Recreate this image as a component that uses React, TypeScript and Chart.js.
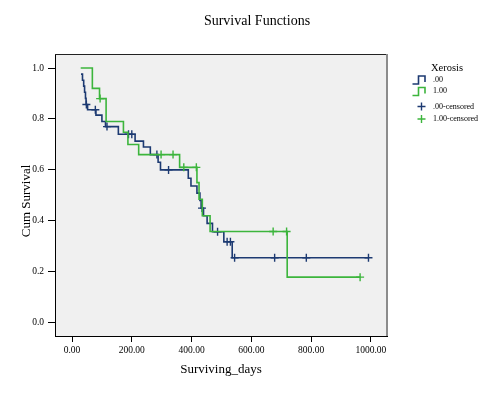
import React, { useEffect, useRef } from "react";
import { Chart, registerables } from "chart.js";

Chart.register(...registerables);

const TITLE = "Survival Functions";
const X_TITLE = "Surviving_days";
const Y_TITLE = "Cum Survival";
const LEGEND_TITLE = "Xerosis";
const GROUP_LABELS = [".00", "1.00"];
const CENSOR_LABELS = [".00-censored", "1.00-censored"];

const X_TICKS = [0, 200, 400, 600, 800, 1000];
const Y_TICKS = [0, 0.2, 0.4, 0.6, 0.8, 1.0];

// Group .00 (blue) step curve: day of each step, survival after it
const G0_DAYS = [30, 35, 39, 42, 45, 47, 52, 80, 100, 112, 155, 211, 239, 262, 288, 296, 389, 398, 418, 428, 432, 440, 452, 470, 508, 536, 992];
const G0_SURV = [0.976, 0.952, 0.929, 0.905, 0.881, 0.857, 0.836, 0.815, 0.79, 0.77, 0.74, 0.713, 0.69, 0.66, 0.63, 0.6, 0.567, 0.537, 0.509, 0.48, 0.45, 0.42, 0.39, 0.357, 0.318, 0.255, 0.255];
const G0_CENS_DAYS = [48, 78, 117, 189, 200, 284, 323, 435, 487, 519, 530, 544, 678, 784, 992];
const G0_CENS_SURV = [0.857, 0.836, 0.77, 0.74, 0.74, 0.66, 0.6, 0.45, 0.357, 0.318, 0.318, 0.255, 0.255, 0.255, 0.255];

// Group 1.00 (green)
const G1_DAYS = [29, 68, 92, 114, 172, 187, 223, 360, 418, 425, 436, 462, 720, 964];
const G1_SURV = [1.0, 0.92, 0.88, 0.79, 0.748, 0.7, 0.66, 0.61, 0.55, 0.485, 0.42, 0.358, 0.179, 0.179];
const G1_CENS_DAYS = [94, 298, 338, 374, 416, 673, 718, 964];
const G1_CENS_SURV = [0.88, 0.66, 0.66, 0.61, 0.61, 0.358, 0.358, 0.179];

const BLUE = "#1d3a72";
const GREEN = "#3cb53c";
const FONT = "'Liberation Serif', 'Times New Roman', serif";

const pts = (xs: number[], ys: number[]) => xs.map((x, i) => ({ x, y: ys[i] }));

const decoPlugin = {
  id: "deco",
  beforeDraw(chart: any) {
    const { ctx, chartArea: a } = chart;
    ctx.save();
    ctx.fillStyle = "#f0f0f0";
    ctx.fillRect(a.left, a.top, a.right - a.left, a.bottom - a.top);
    ctx.restore();
  },
  afterDraw(chart: any) {
    const { ctx, chartArea: a } = chart;
    ctx.save();
    // frame
    ctx.strokeStyle = "#222";
    ctx.lineWidth = 1;
    ctx.beginPath();
    ctx.moveTo(a.left, a.top + 0.5);
    ctx.lineTo(a.right, a.top + 0.5);
    ctx.stroke();
    ctx.strokeStyle = "#8c8c8c";
    ctx.lineWidth = 2;
    ctx.beginPath();
    ctx.moveTo(a.right, a.top);
    ctx.lineTo(a.right, a.bottom);
    ctx.stroke();

    // title
    ctx.fillStyle = "#000";
    ctx.font = `14px ${FONT}`;
    ctx.textAlign = "center";
    ctx.textBaseline = "middle";
    ctx.fillText(TITLE, 257, 21);

    // y title
    ctx.save();
    ctx.translate(27, 201);
    ctx.rotate(-Math.PI / 2);
    ctx.font = `13px ${FONT}`;
    ctx.fillText(Y_TITLE, 0, 0);
    ctx.restore();

    // legend
    ctx.textAlign = "left";
    ctx.font = `10.5px ${FONT}`;
    ctx.fillText(LEGEND_TITLE, 431, 68);
    ctx.font = `8px ${FONT}`;
    const colors = [BLUE, GREEN];
    const rowY = [80, 91.5];
    colors.forEach((c, i) => {
      const y = rowY[i];
      ctx.strokeStyle = c;
      ctx.lineWidth = 1.6;
      ctx.beginPath();
      ctx.moveTo(412.5, y + 4);
      ctx.lineTo(418.5, y + 4);
      ctx.lineTo(418.5, y - 4);
      ctx.lineTo(425, y - 4);
      ctx.lineTo(425, y + 2);
      ctx.stroke();
      ctx.fillText(GROUP_LABELS[i], 433, y - 0.5);
    });
    const crossY = [106.5, 119];
    colors.forEach((c, i) => {
      const y = crossY[i];
      ctx.strokeStyle = c;
      ctx.lineWidth = 1.4;
      ctx.beginPath();
      ctx.moveTo(417.5, y);
      ctx.lineTo(425.5, y);
      ctx.moveTo(421.5, y - 4);
      ctx.lineTo(421.5, y + 4);
      ctx.stroke();
      ctx.fillText(CENSOR_LABELS[i], 433, y);
    });
    ctx.restore();
  },
};

export default function App() {
  const ref = useRef<HTMLCanvasElement | null>(null);

  useEffect(() => {
    if (!ref.current) return;
    Chart.defaults.font.family = FONT;
    const chart = new Chart(ref.current, {
      type: "line",
      data: {
        datasets: [
          {
            label: GROUP_LABELS[1],
            data: pts(G1_DAYS, G1_SURV),
            borderColor: GREEN,
            borderWidth: 1.6,
            stepped: "before",
            pointRadius: 0,
            fill: false,
          },
          {
            label: CENSOR_LABELS[1],
            data: pts(G1_CENS_DAYS, G1_CENS_SURV),
            showLine: false,
            pointStyle: "cross",
            pointRadius: 4,
            pointBorderWidth: 1.4,
            borderColor: GREEN,
            backgroundColor: GREEN,
          },
          {
            label: GROUP_LABELS[0],
            data: pts(G0_DAYS, G0_SURV),
            borderColor: BLUE,
            borderWidth: 1.6,
            stepped: "before",
            pointRadius: 0,
            fill: false,
          },
          {
            label: CENSOR_LABELS[0],
            data: pts(G0_CENS_DAYS, G0_CENS_SURV),
            showLine: false,
            pointStyle: "cross",
            pointRadius: 4,
            pointBorderWidth: 1.4,
            borderColor: BLUE,
            backgroundColor: BLUE,
          },
        ],
      },
      options: {
        responsive: false,
        animation: false,
        layout: { padding: { left: 0, top: 54, right: 113, bottom: 0 } },
        plugins: {
          legend: { display: false },
          title: { display: false },
          tooltip: { enabled: false },
        },
        scales: {
          x: {
            type: "linear",
            min: -57,
            max: 1054,
            afterBuildTicks: (s: any) => {
              s.ticks = X_TICKS.map((v) => ({ value: v }));
            },
            afterFit: (s: any) => {
              s.height = 57;
            },
            ticks: {
              color: "#000",
              font: { size: 9.5, family: FONT },
              padding: 3,
              maxRotation: 0,
              callback: (v: any) => Number(v).toFixed(2),
            },
            grid: { drawOnChartArea: false, drawTicks: true, tickLength: 6, color: "#000" },
            border: { display: true, color: "#000", width: 1 },
            title: { display: true, text: X_TITLE, color: "#000", font: { size: 13, family: FONT }, padding: { top: 4, bottom: 16 } },
          },
          y: {
            type: "linear",
            min: -0.052,
            max: 1.055,
            afterBuildTicks: (s: any) => {
              s.ticks = Y_TICKS.map((v) => ({ value: v }));
            },
            afterFit: (s: any) => {
              s.width = 55;
            },
            ticks: {
              color: "#000",
              font: { size: 9.5, family: FONT },
              padding: 4,
              callback: (v: any) => Number(v).toFixed(1),
            },
            grid: { drawOnChartArea: false, drawTicks: true, tickLength: 7, color: "#000" },
            border: { display: true, color: "#000", width: 1 },
          },
        },
      },
      plugins: [decoPlugin],
    } as any);
    return () => chart.destroy();
  }, []);

  return (
    <div style={{ position: "fixed", left: 0, top: 0, width: 500, height: 393, background: "#fff" }}>
      <canvas ref={ref} width={500} height={393} style={{ width: 500, height: 393, display: "block" }} />
    </div>
  );
}
